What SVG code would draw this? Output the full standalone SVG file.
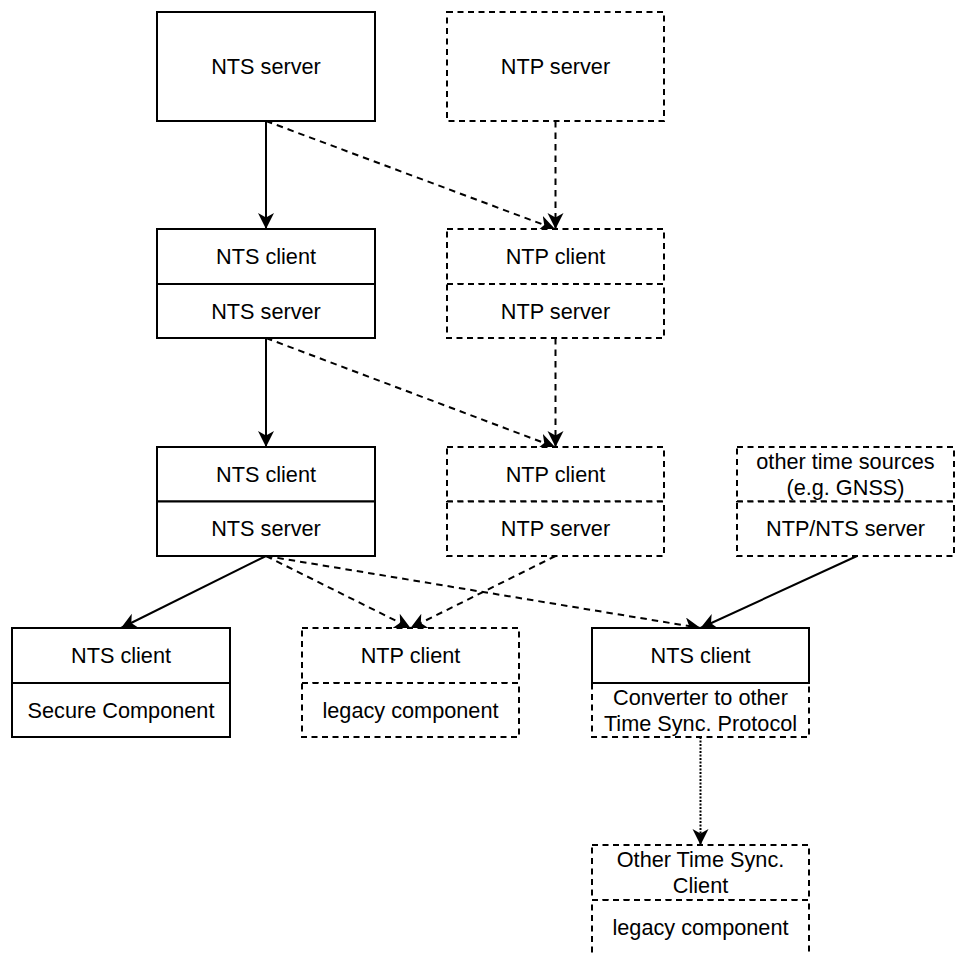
<svg xmlns="http://www.w3.org/2000/svg" width="960" height="953" viewBox="0 0 960 953">
<style>
.b{fill:#fff;stroke:#000;stroke-width:2}
.d{fill:#fff;stroke:#000;stroke-width:2;stroke-dasharray:6 4.5}
.t{font-family:"Liberation Sans",Arial,sans-serif;font-size:21.7px;text-anchor:middle;fill:#000}
.c{fill:none;stroke:#000;stroke-width:2}
.cd{stroke-dasharray:6.5 5}
.co{stroke-dasharray:2 1.5}
</style>
<defs>
<marker id="arr" markerUnits="userSpaceOnUse" markerWidth="18" markerHeight="18" refX="16" refY="8" orient="auto">
<path d="M0,0 L16,8 L0,16 L4.5,8 Z" fill="#000"/>
</marker>
</defs>
<rect width="960" height="953" fill="#fff"/>
<g id="connectors">
<path class="c" d="M266,121 L266,229" marker-end="url(#arr)"/>
<path class="c cd" d="M266,121 L555,229" marker-end="url(#arr)"/>
<path class="c cd" d="M555.5,121 L555.5,229" marker-end="url(#arr)"/>
<path class="c" d="M266,338 L266,447" marker-end="url(#arr)"/>
<path class="c cd" d="M266,338 L555,447" marker-end="url(#arr)"/>
<path class="c cd" d="M555.5,338 L555.5,447" marker-end="url(#arr)"/>
<path class="c" d="M266,556 L121,628" marker-end="url(#arr)"/>
<path class="c cd" d="M266,556 L410.5,628" marker-end="url(#arr)"/>
<path class="c cd" d="M266,556 L700.5,628" marker-end="url(#arr)"/>
<path class="c cd" d="M555.5,556 L410.5,628" marker-end="url(#arr)"/>
<path class="c" d="M857,556 L700.5,628" marker-end="url(#arr)"/>
<path class="c co" d="M700.5,737 L700.5,845" marker-end="url(#arr)"/>
</g>
<g id="nts-server-1">
<rect class="b" x="157" y="12" width="218" height="109"/>
<text class="t" x="266" y="74">NTS server</text>
</g>
<g id="ntp-server-1">
<rect class="d" x="447" y="12" width="217" height="109"/>
<text class="t" x="555.5" y="74">NTP server</text>
</g>
<g id="nts-2">
<rect class="b" x="157" y="229" width="218" height="55"/>
<rect class="b" x="157" y="284" width="218" height="54"/>
<text class="t" x="266" y="264">NTS client</text>
<text class="t" x="266" y="318.5">NTS server</text>
</g>
<g id="ntp-2">
<rect class="d" x="447" y="229" width="217" height="55"/>
<rect class="d" x="447" y="284" width="217" height="54"/>
<text class="t" x="555.5" y="264">NTP client</text>
<text class="t" x="555.5" y="318.5">NTP server</text>
</g>
<g id="nts-3">
<rect class="b" x="157" y="447" width="218" height="54.5"/>
<rect class="b" x="157" y="501.5" width="218" height="54.5"/>
<text class="t" x="266" y="481.5">NTS client</text>
<text class="t" x="266" y="536">NTS server</text>
</g>
<g id="ntp-3">
<rect class="d" x="447" y="447" width="217" height="54.5"/>
<rect class="d" x="447" y="501.5" width="217" height="54.5"/>
<text class="t" x="555.5" y="481.5">NTP client</text>
<text class="t" x="555.5" y="536">NTP server</text>
</g>
<g id="other-sources">
<rect class="d" x="737" y="447" width="217" height="54.5"/>
<rect class="d" x="737" y="501.5" width="217" height="54.5"/>
<text class="t" x="845.5" y="468.5">other time sources</text>
<text class="t" x="845.5" y="494.5">(e.g. GNSS)</text>
<text class="t" x="845.5" y="536">NTP/NTS server</text>
</g>
<g id="secure-component">
<rect class="b" x="12" y="628" width="218" height="55"/>
<rect class="b" x="12" y="683" width="218" height="54"/>
<text class="t" x="121" y="663">NTS client</text>
<text class="t" x="121" y="717.5">Secure Component</text>
</g>
<g id="legacy-component">
<rect class="d" x="302" y="628" width="217" height="55"/>
<rect class="d" x="302" y="683" width="217" height="54"/>
<text class="t" x="410.5" y="663">NTP client</text>
<text class="t" x="410.5" y="717.5">legacy component</text>
</g>
<g id="converter">
<rect class="d" x="592" y="683" width="217" height="54"/>
<rect class="b" x="592" y="628" width="217" height="55"/>
<text class="t" x="700.5" y="663">NTS client</text>
<text class="t" x="700.5" y="704.5">Converter to other</text>
<text class="t" x="700.5" y="730.5">Time Sync. Protocol</text>
</g>
<g id="other-client">
<rect class="d" x="592" y="845" width="217" height="55"/>
<rect class="d" x="592" y="900" width="217" height="56"/>
<text class="t" x="700.5" y="866.5">Other Time Sync.</text>
<text class="t" x="700.5" y="892.5">Client</text>
<text class="t" x="700.5" y="934.5">legacy component</text>
</g>
</svg>
